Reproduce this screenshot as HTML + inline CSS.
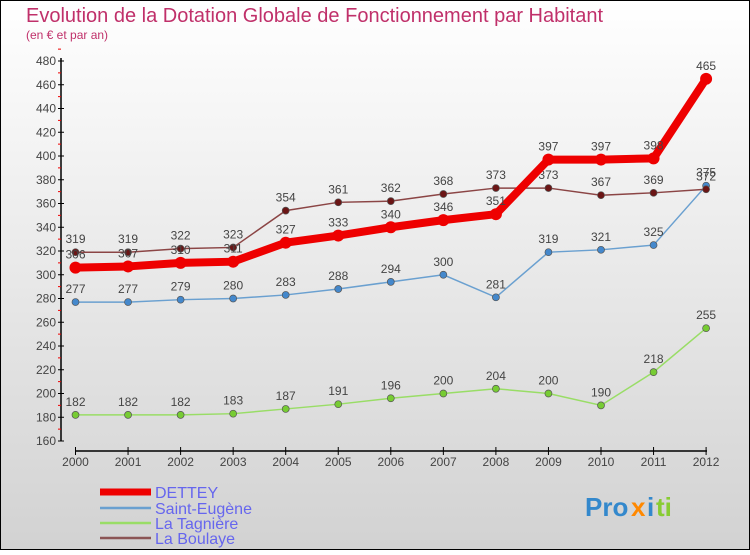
<!DOCTYPE html>
<html><head><meta charset="utf-8"><style>
html,body{margin:0;padding:0}
body{width:750px;height:550px;overflow:hidden;font-family:"Liberation Sans",sans-serif}
</style></head><body>
<svg width="750" height="550" xmlns="http://www.w3.org/2000/svg">
<defs><linearGradient id="bg" x1="0" y1="0" x2="0" y2="1"><stop offset="0" stop-color="#ffffff"/><stop offset="1" stop-color="#d2d2d2"/></linearGradient></defs>
<rect x="0.5" y="0.5" width="749" height="549" fill="url(#bg)" stroke="#000"/>
<text x="26" y="22" font-size="20" fill="#c0306a">Evolution de la Dotation Globale de Fonctionnement par Habitant</text>
<text x="26" y="39" font-size="12" fill="#c0306a">(en € et par an)</text>
<g id="axes"></g>
<g id="series"></g>
<g id="legend"></g>
<g font-size="26" font-weight="bold">
<text x="585" y="516" fill="#3388cc">Pro</text><text x="631" y="516" fill="#ff8800">x</text><text x="647" y="516" fill="#3388cc">i</text><text x="656" y="516" fill="#88cc33">ti</text>
</g>
</svg>
<script>
const years=[2000,2001,2002,2003,2004,2005,2006,2007,2008,2009,2010,2011,2012];
const yTicks=[160,180,200,220,240,260,280,300,320,340,360,380,400,420,440,460,480];
const dettey=[306,307,310,311,327,333,340,346,351,397,397,398,465];
const saintEugene=[277,277,279,280,283,288,294,300,281,319,321,325,375];
const tagniere=[182,182,182,183,187,191,196,200,204,200,190,218,255];
const boulaye=[319,319,322,323,354,361,362,368,373,373,367,369,372];
const NS="http://www.w3.org/2000/svg";
const X=i=>75.5+i*52.55;
const Y=v=>441-(v-160)*380/320;
function mk(tag,attrs,parent,text){const e=document.createElementNS(NS,tag);for(const k in attrs)e.setAttribute(k,attrs[k]);if(text!==undefined)e.textContent=text;parent.appendChild(e);return e;}
const axes=document.getElementById('axes');
let e=mk('line',{x1:61,y1:58,x2:61,y2:441,stroke:'#000','stroke-width':1.5},axes);


yTicks.forEach(v=>{
 mk('line',{x1:58,x2:64,y1:Y(v),y2:Y(v),stroke:'#000'},axes);
 mk('line',{x1:58,x2:61,y1:Y(v+10),y2:Y(v+10),stroke:'#e00'},axes);
 const t=mk('text',{x:56,y:Y(v)+4,'font-size':12,fill:'#444','text-anchor':'end'},axes,v);
 
 
});
e=mk('line',{x1:75,y1:451,x2:707,y2:451,stroke:'#000','stroke-width':1.5},axes);


years.forEach((y,i)=>{
 mk('line',{x1:X(i),x2:X(i),y1:447,y2:455,stroke:'#000'},axes);
 const t=mk('text',{x:X(i),y:466,'font-size':12,fill:'#444','text-anchor':'middle'},axes,y);
 
 
});
const ser=document.getElementById('series');
const defs=[
 {name:'la-tagniere',data:tagniere,c:'#99dd66',dot:'#77cc33',w:1.5,r:3.5},
 {name:'saint-eugene',data:saintEugene,c:'#6aa0d0',dot:'#4488cc',w:1.5,r:3.5},
 {name:'la-boulaye',data:boulaye,c:'#8b4545',dot:'#6b1515',w:1.5,r:3.5},
 {name:'dettey',data:dettey,c:'#ee0000',dot:'#ee0000',w:8,r:6}
];
defs.forEach(s=>{
 const g=mk('g',{},ser);
 
 
 const p=mk('polyline',{points:s.data.map((v,i)=>X(i)+','+Y(v)).join(' '),fill:'none',stroke:s.c,'stroke-width':s.w},g);
 
 
 s.data.forEach((v,i)=>{
  const c=mk('circle',{cx:X(i),cy:Y(v),r:s.r,fill:s.dot,stroke:'#555','stroke-width':s.w>2?0:0.7},g);
  
  
  const t=mk('text',{x:X(i),y:Y(v)-9,'font-size':12,fill:'#444','text-anchor':'middle'},g,v);
  
  
 });
});
const leg=document.getElementById('legend');
defs.slice().reverse().forEach((s,i)=>{
 const label=['DETTEY','Saint-Eugène','La Boulaye','La Tagnière'];
});
const legItems=[['dettey','DETTEY','#ee0000',7,492],['saint-eugene','Saint-Eugène','#6aa0d0',2.5,508],['la-tagniere','La Tagnière','#99dd66',2.5,523],['la-boulaye','La Boulaye','#8b5555',2.5,538]];
legItems.forEach(it=>{
 const g=mk('g',{},leg);
 
 
 mk('line',{x1:100,x2:151,y1:it[4],y2:it[4],stroke:it[2],'stroke-width':it[3]},g);
 mk('text',{x:155,y:it[4]+6,'font-size':16,fill:'#6666ee'},g,it[1]);
});
</script>
</body></html>
